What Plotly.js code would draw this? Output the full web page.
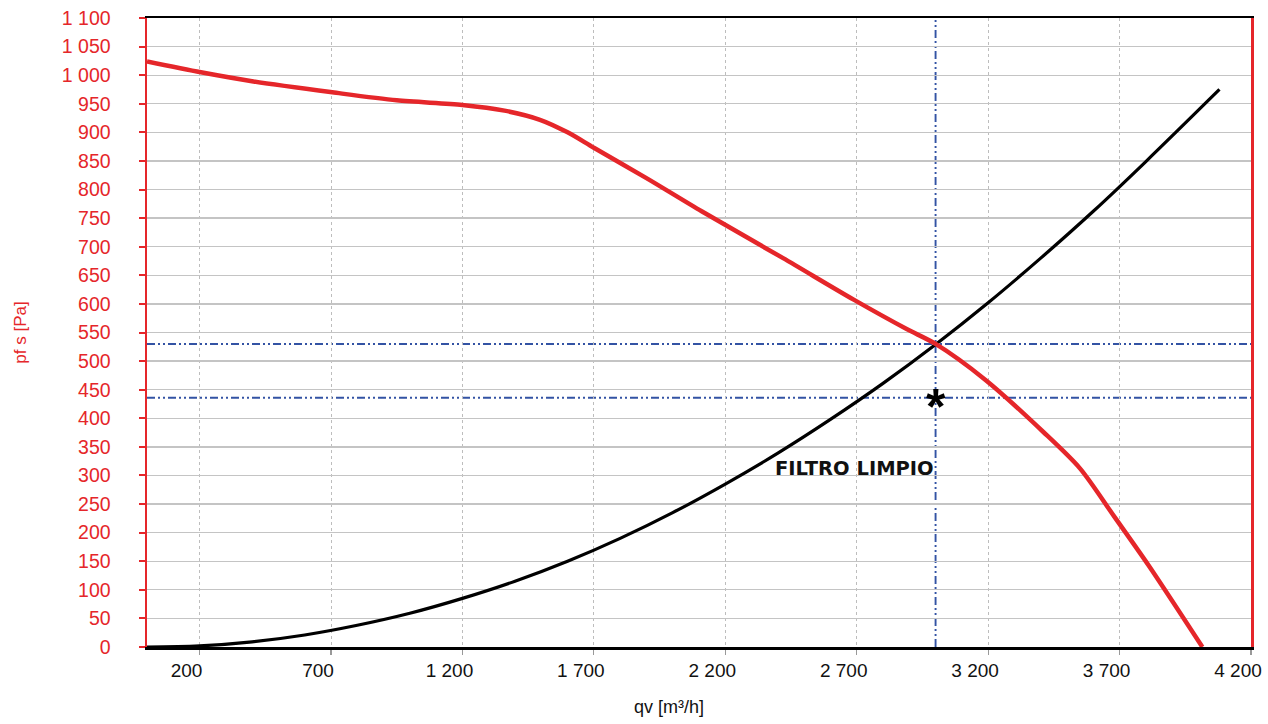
<!DOCTYPE html>
<html>
<head>
<meta charset="utf-8">
<script src="https://cdn.plot.ly/plotly-3.0.1.min.js"></script>
<style>
  html, body { margin: 0; padding: 0; background: #ffffff; }
  #chart { width: 1268px; height: 724px; }
</style>
</head>
<body>
<div id="chart"></div>
<script>
// Fan curve (pfs vs qv)
const fanQv = [0, 205, 405, 705, 950, 1200, 1360, 1495, 1600, 1700, 1900, 2110, 2420, 2690, 2890, 3000, 3190, 3410, 3550, 3680, 3810, 4015];
const fanPfs = [1024, 1005, 989, 970, 956, 948, 938, 922, 900, 873, 820, 762, 680, 607, 556, 530, 467, 376, 312, 228, 143, 0];

// System curve (clean filter)
const sysQv = [0, 200, 400, 600, 800, 1000, 1200, 1400, 1600, 1800, 2000, 2200, 2400, 2600, 2800, 3000, 3200, 3400, 3600, 3800, 4080];
const sysPfs = [0, 2, 9, 21, 38, 59, 85, 115, 150, 190, 235, 285, 339, 398, 461, 529, 602, 680, 762, 849, 975];

// Reference lines
const refQv = [3000];
const refPfs = [530, 436];

// Marker and label
const starQv = 3000, starPfs = 436;
const labelText = "FILTRO LIMPIO";
const labelQv = 3000, labelPfs = 312;

// Tick values
const xTickVals = [200, 700, 1200, 1700, 2200, 2700, 3200, 3700, 4200];
const xTickText = ["200", "700", "1 200", "1 700", "2 200", "2 700", "3 200", "3 700", "4 200"];

const RED = "#e5262a";
const BLUE = "#3353a4";
const FONT = "Liberation Sans, Arial, sans-serif";
const DASH = "8px,3px,2px,3px,2px,3px";

const traces = [
  { x: sysQv, y: sysPfs, type: "scatter", mode: "lines", line: { color: "#000000", width: 3.2, shape: "spline", smoothing: 1 }, hoverinfo: "x+y", name: "sistema" },
  { x: fanQv, y: fanPfs, type: "scatter", mode: "lines", line: { color: RED, width: 4.5, shape: "spline", smoothing: 0.8 }, hoverinfo: "x+y", name: "ventilador" }
];

const shapes = [];
refPfs.forEach(v => shapes.push({ type: "line", xref: "paper", yref: "y", x0: 0, x1: 1, y0: v, y1: v, layer: "below", line: { color: BLUE, width: 1.9, dash: DASH } }));
refQv.forEach(v => shapes.push({ type: "line", xref: "x", yref: "paper", x0: v, x1: v, y0: 0, y1: 1, layer: "below", line: { color: BLUE, width: 1.9, dash: DASH } }));

const NB = "\u00A0";
const layout = {
  width: 1268, height: 724,
  margin: { l: 147, r: 17, t: 18, b: 77 },
  paper_bgcolor: "#ffffff", plot_bgcolor: "#ffffff",
  showlegend: false,
  separators: ". ",
  font: { family: FONT, size: 18 },
  xaxis: {
    range: [0, 4200],
    tickvals: xTickVals, ticktext: xTickText,
    showgrid: true, gridcolor: "#bdbdbd", gridwidth: 1, griddash: "dot",
    zeroline: false,
    showline: true, linecolor: "#000000", linewidth: 2.5, mirror: true,
    ticks: "outside", ticklen: 5, tickwidth: 1.2, tickcolor: "#999999",
    ticklabelshift: -13,
    tickfont: { family: FONT, size: 19, color: "#111111" },
    title: { text: "qv [m³/h]" + NB.repeat(12) + "\u200B", font: { family: FONT, size: 18, color: "#111111" }, standoff: 20 }
  },
  yaxis: {
    range: [0, 1100], dtick: 50, tick0: 0, tickformat: ",d",
    showgrid: true, gridcolor: "#c4c4c4", gridwidth: 1.3,
    zeroline: false,
    showline: true, linecolor: RED, linewidth: 2.5, mirror: true,
    ticks: "outside", ticklen: 6, tickwidth: 2, tickcolor: RED,
    ticklabelstandoff: 24,
    tickfont: { family: FONT, size: 19.5, color: RED },
    title: { text: "pf s [Pa]", font: { family: FONT, size: 17, color: RED }, standoff: 31 }
  },
  shapes: shapes,
  annotations: [
    { x: starQv, y: starPfs, xref: "x", yref: "y", text: "<b>*</b>", showarrow: false, xanchor: "center", yanchor: "middle", yshift: -9, font: { family: FONT, size: 50, color: "#000000" } },
    { x: labelQv, y: labelPfs, xref: "x", yref: "y", text: "<b>" + labelText + "</b>", showarrow: false, xanchor: "right", yanchor: "middle", font: { family: "DejaVu Sans, sans-serif", size: 19.5, color: "#111111" } }
  ]
};

Plotly.newPlot("chart", traces, layout, { displayModeBar: false, staticPlot: true });
</script>
</body>
</html>
